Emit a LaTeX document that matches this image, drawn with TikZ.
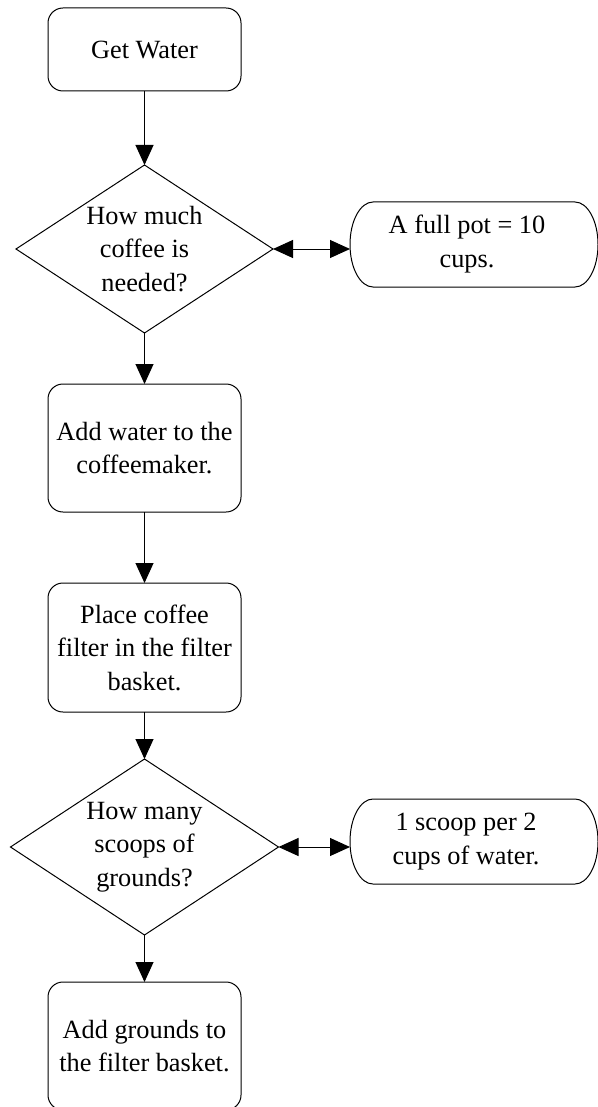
\documentclass[tikz,border=0pt]{standalone}
\usepackage{fontspec}
\setmainfont{Liberation Serif}
\usetikzlibrary{arrows.meta,shapes.geometric}
\begin{document}
\begin{tikzpicture}[x=1pt,y=1pt,
  line width=1pt,
  >={Triangle[length=20pt,width=18pt]},
  txt/.style={font=\fontsize{26.3}{33.5}\selectfont, align=center},
  stepbox/.style={txt, draw, rounded corners=15pt, minimum width=193pt, inner sep=0pt, outer sep=0pt},
  decision/.style={draw, shape=diamond, inner sep=0pt, outer sep=0pt},
  dlabel/.style={txt, inner sep=0pt},
  pilltext/.style={txt, inner sep=0pt}
]
\useasboundingbox (0,0) rectangle (597,-1107);

% process boxes
\node[stepbox, minimum height=83pt] (n1) at (144.5,-49.5) {Get Water};
\node[decision, minimum width=257pt, minimum height=168pt,
      label={[dlabel]center:How much\\coffee is\\needed?}] (d1) at (144.5,-249) {};
\node[stepbox, minimum height=128pt] (n2) at (144.5,-448) {Add water to the\\coffeemaker.};
\node[stepbox, minimum height=129pt] (n3) at (144.5,-647.5) {Place coffee\\filter in the filter\\basket.};
\node[decision, minimum width=268pt, minimum height=176pt,
      label={[dlabel]center:How many\\scoops of\\grounds?}] (d2) at (144.5,-847) {};
\node[stepbox, minimum height=128pt] (n4) at (144.5,-1046) {Add grounds to\\the filter basket.};

% pill 1
\node[pilltext] (p1) at (467,-244) {A full pot = 10\\cups.};
\coordinate (p1w) at (350,-244.5);
\draw ([shift={(23,42.5)}]p1w) -- ++(202,0)
  arc[start angle=90, end angle=-90, x radius=23, y radius=42.5]
  -- ++(-202,0)
  arc[start angle=270, end angle=90, x radius=23, y radius=42.5] -- cycle;

% pill 2
\node[pilltext] (p2) at (466,-841.5) {1 scoop per 2\\cups of water.};
\coordinate (p2w) at (350,-841.5);
\draw ([shift={(23,42.5)}]p2w) -- ++(202,0)
  arc[start angle=90, end angle=-90, x radius=23, y radius=42.5]
  -- ++(-202,0)
  arc[start angle=270, end angle=90, x radius=23, y radius=42.5] -- cycle;

% connectors
\draw[->] (n1.south) -- (d1.north);
\draw[->] (d1.south) -- (n2.north);
\draw[->] (n2.south) -- (n3.north);
\draw[->] (n3.south) -- (d2.north);
\draw[->] (d2.south) -- (n4.north);
\draw[<->] (d1.east) -- (d1.east -| p1w);
\draw[<->] (d2.east) -- (d2.east -| p2w);
\end{tikzpicture}
\end{document}
